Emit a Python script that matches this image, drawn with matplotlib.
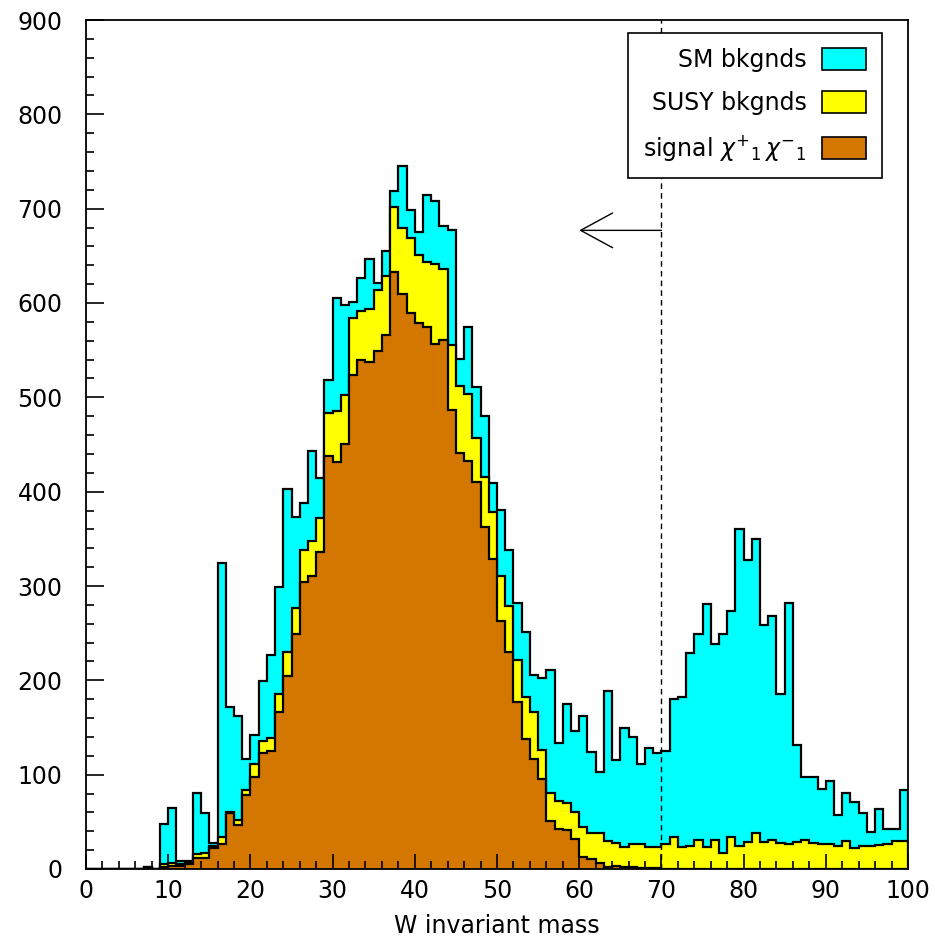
#!/usr/bin/env python3
"""Stacked W invariant mass histogram: signal chargino pair over SUSY and SM backgrounds"""

import numpy as np
import matplotlib
matplotlib.use("Agg")
import matplotlib.pyplot as plt
from matplotlib.patches import Patch
from matplotlib.ticker import MultipleLocator

plt.rcParams['font.family'] = ['DejaVu Sans']

# 100 bins of width 1 between 0 and 100
bin_lo, bin_hi, n_bins = 0, 100, 100

# signal chi+1 chi-1 (bottom of the stack)
signal = [0, 0, 0, 0, 0, 0, 0, 1, 0, 2,
          3, 3, 5, 12, 12, 22, 26, 59, 47, 78,
          97, 123, 125, 166, 205, 249, 304, 311, 336, 438,
          431, 451, 524, 540, 537, 549, 566, 633, 610, 589,
          579, 575, 557, 561, 487, 441, 433, 410, 363, 329,
          263, 230, 177, 138, 117, 95, 51, 42, 41, 32,
          13, 11, 6, 2, 3, 2, 2, 1, 1, 1,
          0, 0, 0, 0, 0, 0, 0, 0, 0, 0,
          0, 0, 0, 0, 0, 0, 0, 0, 0, 0,
          0, 0, 0, 0, 0, 0, 0, 0, 0, 0]

# SUSY backgrounds (middle of the stack)
susy_bkg = [0, 0, 0, 0, 0, 0, 0, 1, 0, 3,
            3, 2, 1, 4, 5, 2, 8, 1, 5, 6,
            14, 13, 14, 19, 25, 28, 34, 37, 36, 45,
            54, 52, 60, 52, 57, 65, 63, 69, 70, 80,
            72, 68, 84, 75, 69, 71, 71, 47, 53, 49,
            48, 49, 45, 44, 49, 31, 30, 30, 29, 28,
            31, 27, 32, 28, 25, 21, 25, 25, 22, 22,
            26, 34, 23, 24, 31, 23, 31, 17, 34, 24,
            29, 38, 29, 31, 28, 27, 29, 31, 28, 27,
            27, 24, 30, 22, 24, 24, 25, 27, 30, 30]

# SM backgrounds (top of the stack)
sm_bkg = [0, 0, 0, 0, 0, 0, 0, 0, 0, 43,
          59, 3, 2, 65, 42, 4, 290, 112, 110, 33,
          31, 63, 88, 114, 173, 96, 50, 95, 43, 35,
          120, 95, 17, 35, 53, 7, 26, 17, 65, 30,
          24, 72, 67, 46, 121, 29, 71, 54, 64, 31,
          70, 59, 60, 69, 40, 77, 130, 62, 105, 86,
          118, 86, 65, 159, 88, 127, 113, 85, 105, 100,
          99, 146, 159, 205, 218, 258, 208, 232, 240, 336,
          299, 312, 230, 237, 157, 255, 102, 67, 70, 58,
          66, 33, 51, 49, 35, 15, 39, 15, 12, 54]

labels = ["SM bkgnds", "SUSY bkgnds", r"signal $\chi^{+}{}_{1}\,\chi^{-}{}_{1}$"]
colors = ["#00ffff", "#ffff00", "#d47700"]

cut_value = 70      # mass cut (dashed line)
arrow_y = 677       # height of the "keep below" arrow
arrow_len = 10      # arrow length in mass units


def stack_tops(*series):
    """Cumulative tops of a stack, from bottom to top"""
    return np.cumsum(np.array(series, dtype=float), axis=0)


edges = np.linspace(bin_lo, bin_hi, n_bins + 1)
top_sig, top_susy, top_sm = stack_tops(signal, susy_bkg, sm_bkg)

fig = plt.figure(figsize=(9.35, 9.43), dpi=100)
ax = fig.add_axes([86 / 935, 1 - 869 / 943, 822 / 935, 849 / 943])

# draw from the top of the stack down so lower layers cover upper ones
for top, col in zip([top_sm, top_susy, top_sig], colors):
    ax.stairs(top, edges, baseline=0, fill=True, facecolor=col,
              edgecolor="black", linewidth=1.6, zorder=1)

ax.set_xlim(bin_lo, bin_hi)
ax.set_ylim(0, 900)

# cut line and arrow
ax.axvline(cut_value, color="black", linestyle=(0, (4, 3)), linewidth=1.0, zorder=3)
ax.annotate("", xy=(cut_value - arrow_len, arrow_y), xytext=(cut_value, arrow_y),
            arrowprops=dict(arrowstyle="->, head_length=2.3, head_width=1.25",
                            color="black", lw=1.0, shrinkA=0, shrinkB=0,
                            mutation_scale=10), zorder=3)

# ticks, PAW style: inside, no top/right ticks
ax.xaxis.set_major_locator(MultipleLocator(10))
ax.xaxis.set_minor_locator(MultipleLocator(2))
ax.yaxis.set_major_locator(MultipleLocator(100))
ax.yaxis.set_minor_locator(MultipleLocator(20))
ax.tick_params(which="both", direction="in", top=False, right=False,
               width=1.2, labelsize=17, colors="black")
ax.tick_params(axis="x", which="major", length=11, pad=7)
ax.tick_params(axis="x", which="minor", length=6)
ax.tick_params(axis="y", which="major", length=13, pad=17)
ax.tick_params(axis="y", which="minor", length=6)
for sp in ax.spines.values():
    sp.set_linewidth(1.3)
    sp.set_zorder(4)

ax.set_xlabel("W invariant mass", fontsize=17, labelpad=8)

handles = [Patch(facecolor=c, edgecolor="black", linewidth=1.2) for c in colors]
leg = ax.legend(handles, labels, loc="upper right", bbox_to_anchor=(0.968, 0.985),
                markerfirst=False, fancybox=False, framealpha=1, edgecolor="black",
                fontsize=17, handlelength=1.86, handleheight=1.06, labelspacing=0.78,
                borderpad=0.65, handletextpad=0.68, borderaxespad=0)
leg.get_frame().set_linewidth(1.2)

fig.savefig("out.png", dpi=100, facecolor="white")
